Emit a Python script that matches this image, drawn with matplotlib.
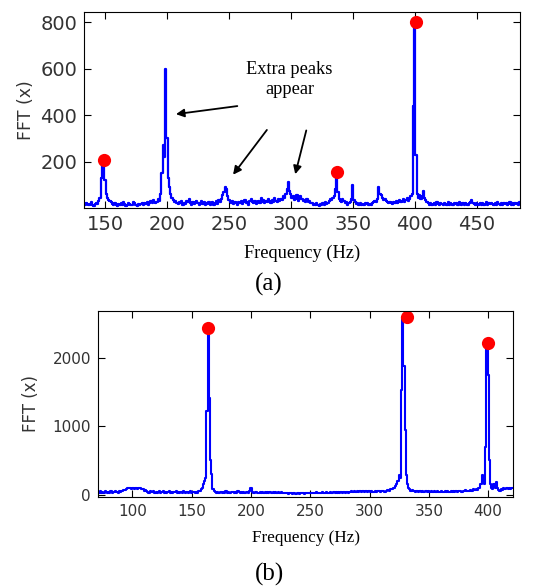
import numpy as np
import matplotlib
matplotlib.use('Agg')
import matplotlib.pyplot as plt

# спектр (a): амплитуды с шагом 1 Гц, начиная со 133 Гц
start_a = 133
amp_a = [20, 15, 22, 18, 12, 16, 25, 14, 10, 18,
         22, 18, 30, 45, 130, 190, 185, 120, 60, 45,
         35, 30, 25, 18, 12, 20, 15, 10, 18, 14,
         20, 12, 25, 16, 10, 14, 22, 18, 12, 15,
         28, 20, 14, 10, 18, 12, 16, 20, 14, 22,
         18, 25, 15, 20, 30, 22, 35, 28, 20, 25,
         40, 30, 60, 150, 270, 220, 600, 300, 130, 90,
         60, 45, 35, 28, 30, 22, 18, 25, 20, 30,
         15, 22, 18, 30, 25, 40, 20, 15, 28, 18,
         25, 30, 20, 15, 22, 30, 18, 25, 12, 20,
         18, 25, 14, 20, 28, 15, 22, 30, 18, 35,
         25, 40, 55, 70, 90, 80, 50, 35, 28, 22,
         30, 18, 25, 20, 15, 28, 22, 30, 18, 25,
         35, 20, 28, 15, 30, 40, 25, 20, 32, 18,
         25, 30, 20, 42, 28, 35, 22, 30, 25, 40,
         30, 22, 35, 28, 45, 30, 25, 38, 30, 40,
         35, 50, 45, 60, 80, 110, 75, 60, 45, 50,
         35, 40, 55, 30, 45, 50, 40, 30, 35, 28,
         40, 25, 30, 20, 22, 15, 18, 12, 20, 15,
         10, 18, 12, 20, 15, 25, 18, 22, 30, 40,
         35, 45, 50, 80, 130, 70, 40, 30, 25, 40,
         30, 20, 28, 15, 22, 25, 40, 100, 35, 25,
         18, 22, 15, 20, 12, 18, 14, 22, 16, 20,
         12, 18, 15, 20, 25, 30, 28, 40, 90, 60,
         55, 45, 35, 40, 30, 25, 20, 28, 22, 18,
         25, 20, 30, 22, 28, 35, 25, 30, 40, 28,
         35, 45, 30, 40, 50, 60, 440, 800, 230, 60,
         45, 55, 40, 50, 75, 45, 35, 25, 20, 15,
         20, 12, 18, 22, 15, 25, 18, 12, 20, 16,
         14, 22, 18, 12, 25, 15, 20, 18, 12, 22,
         16, 20, 14, 25, 18, 12, 20, 15, 22, 18,
         14, 20, 28, 35, 22, 18, 15, 20, 12, 18,
         22, 15, 20, 14, 18, 25, 12, 20, 16, 22,
         18, 14, 20, 12, 25, 18, 15, 22, 14, 20,
         16, 22, 12, 18, 25, 15, 20, 14, 22, 18,
         20, 15, 25]
peaks_a_f = [149, 337, 401]
peaks_a_v = [208, 157, 800]

# спектр (b): с 71 Гц
start_b = 71
amp_b = [40, 25, 50, 30, 45, 20, 55, 35, 25, 40,
         30, 50, 25, 45, 35, 60, 40, 30, 55, 45,
         60, 50, 70, 65, 80, 95, 90, 100, 85, 95,
         90, 80, 100, 85, 95, 90, 100, 80, 75, 60,
         70, 50, 45, 30, 55, 40, 35, 50, 25, 45,
         30, 40, 55, 25, 35, 50, 30, 45, 20, 40,
         55, 30, 45, 25, 40, 35, 50, 20, 45, 30,
         40, 25, 50, 35, 30, 45, 20, 40, 55, 30,
         35, 45, 25, 40, 30, 50, 60, 80, 100, 150,
         200, 250, 1230, 2440, 1420, 500, 300, 80, 50, 40,
         30, 45, 25, 40, 35, 20, 45, 30, 50, 25,
         40, 30, 20, 45, 35, 25, 40, 30, 50, 35,
         25, 40, 30, 45, 20, 35, 40, 30, 50, 90,
         40, 30, 25, 35, 45, 20, 30, 40, 25, 35,
         30, 45, 25, 35, 20, 40, 30, 25, 45, 30,
         35, 25, 40, 30, 20, 35, 25, 30, 20, 25,
         20, 15, 20, 18, 15, 20, 18, 15, 20, 18,
         15, 20, 18, 22, 15, 20, 18, 25, 20, 30,
         25, 20, 30, 25, 35, 20, 30, 25, 20, 35,
         25, 30, 20, 35, 25, 30, 40, 25, 30, 35,
         25, 40, 30, 35, 25, 45, 30, 40, 35, 25,
         40, 30, 45, 35, 50, 40, 60, 45, 35, 50,
         40, 55, 45, 60, 50, 40, 55, 45, 60, 50,
         40, 50, 35, 45, 55, 40, 60, 50, 45, 55,
         50, 60, 45, 55, 65, 70, 60, 75, 80, 90,
         100, 120, 150, 200, 280, 250, 1530, 2600, 1880, 950,
         280, 150, 100, 80, 60, 70, 50, 60, 45, 55,
         40, 60, 50, 45, 55, 40, 50, 60, 45, 50,
         40, 55, 35, 45, 50, 40, 55, 35, 45, 40,
         50, 35, 45, 55, 40, 50, 35, 45, 60, 45,
         55, 40, 50, 45, 60, 50, 55, 45, 60, 50,
         65, 55, 60, 50, 70, 55, 60, 75, 65, 80,
         70, 90, 100, 150, 280, 200, 150, 700, 2200, 1750,
         500, 150, 100, 80, 150, 90, 180, 100, 70, 60,
         80, 70, 90, 75, 85, 95, 80, 90, 85, 90,
         90]
peaks_b_f = [164, 332, 400]
peaks_b_v = [2440, 2600, 2225]

W, H = 536, 587
fig = plt.figure(figsize=(W / 100, H / 100), dpi=100)


def px(x0, y0, x1, y1):
    # пиксели картинки -> доли фигуры
    return [x0 / W, 1 - y1 / H, (x1 - x0) / W, (y1 - y0) / H]


tick_col = '#333333'

ax1 = fig.add_axes(px(84, 12, 520, 208))
f_a = np.arange(start_a, start_a + len(amp_a))
ax1.plot(f_a, amp_a, color='#0000ff', lw=1.6, drawstyle='steps-mid')
ax1.plot(peaks_a_f, peaks_a_v, 'o', color='#ff0000', ms=9.5, mec='none')
ax1.set_xlim(133, 485)
ax1.set_ylim(0, 845)
ax1.set_xticks([150, 200, 250, 300, 350, 400, 450])
ax1.set_yticks([200, 400, 600, 800])
ax1.tick_params(direction='in', top=True, right=True, length=5, labelsize=14,
                labelcolor=tick_col, pad=5)
for lab in ax1.get_xticklabels() + ax1.get_yticklabels():
    lab.set_family('DejaVu Sans')
ax1.set_ylabel('FFT (x)', family='DejaVu Sans', fontsize=12.5, color=tick_col, labelpad=4)
ax1.set_xlabel('Frequency (Hz)', family='Liberation Serif', fontsize=13.2, labelpad=8)
ax1.text(299, 554, 'Extra peaks\nappear', family='Liberation Serif', fontsize=13.2,
         ha='center', va='center', linespacing=1.25)
arr = dict(arrowstyle='-|>', color='black', lw=1.3, mutation_scale=12)
ax1.annotate('', xy=(205, 403), xytext=(259, 441), arrowprops=arr)
ax1.annotate('', xy=(252, 134), xytext=(282, 346), arrowprops=arr)
ax1.annotate('', xy=(303, 134), xytext=(313, 346), arrowprops=arr)

ax2 = fig.add_axes(px(98, 311, 513, 497))
f_b = np.arange(start_b, start_b + len(amp_b))
ax2.plot(f_b, amp_b, color='#0000ff', lw=1.5, drawstyle='steps-mid')
ax2.plot(peaks_b_f, peaks_b_v, 'o', color='#ff0000', ms=9.5, mec='none')
ax2.set_xlim(71, 421)
ax2.set_ylim(-35, 2690)
ax2.set_xticks([100, 150, 200, 250, 300, 350, 400])
ax2.set_yticks([0, 1000, 2000])
ax2.tick_params(direction='in', top=True, right=True, length=5, labelsize=11,
                labelcolor=tick_col, pad=5)
for lab in ax2.get_xticklabels() + ax2.get_yticklabels():
    lab.set_family('DejaVu Sans')
ax2.set_ylabel('FFT (x)', family='DejaVu Sans', fontsize=12, color=tick_col, labelpad=9)
ax2.set_xlabel('Frequency (Hz)', family='Liberation Serif', fontsize=12.3, labelpad=8)

fig.text(269 / W, 1 - 284 / H, '(a)', family='Liberation Serif', fontsize=18,
         ha='center', va='center')
fig.text(269 / W, 1 - 574 / H, '(b)', family='Liberation Serif', fontsize=18,
         ha='center', va='center')

fig.savefig('out.png', dpi=100)
